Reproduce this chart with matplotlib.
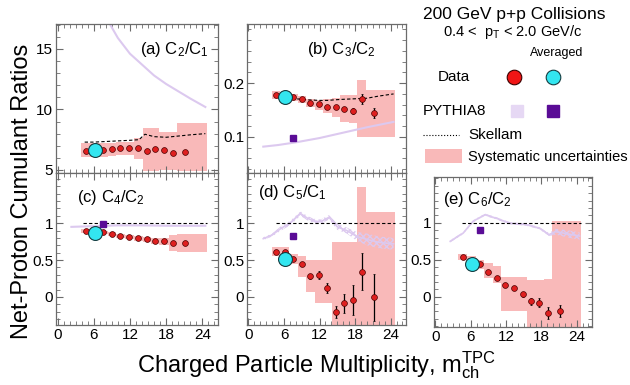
import numpy as np
import matplotlib
matplotlib.use('Agg')
import matplotlib.pyplot as plt
from matplotlib.patches import Rectangle
from matplotlib.ticker import MultipleLocator

plt.rcParams['font.family'] = ['Liberation Sans', 'DejaVu Sans']
plt.rcParams['mathtext.fontset'] = 'custom'
plt.rcParams['mathtext.rm'] = 'Liberation Sans'
plt.rcParams['mathtext.it'] = 'Liberation Sans:italic'

# multiplicity bins (centres / edges of the systematic boxes)
mult = [4.7, 6.1, 7.6, 9.0, 10.4, 11.9, 13.3, 14.8, 16.2, 17.6, 19.1, 21.2]
bin_edges = [3.9, 5.4, 6.9, 8.3, 9.7, 11.2, 12.6, 14.1, 15.5, 16.9, 18.4, 19.8, 24.8]
avg_mult = 6.2
pythia_avg_mult = 7.6

# (a) C2/C1
a_val = [6.6, 6.6, 6.65, 6.7, 6.8, 6.8, 6.8, 6.55, 6.7, 6.65, 6.4, 6.45]
a_err = [0.05] * 12
a_sys_hi = [7.2, 7.2, 7.2, 7.25, 7.3, 7.35, 7.6, 8.5, 8.5, 8.1, 8.1, 8.9]
a_sys_lo = [6.1, 6.1, 6.1, 6.15, 6.2, 6.2, 5.9, 4.9, 4.9, 5.0, 5.0, 4.9]
a_avg = 6.65
a_skel_x = [4.5, 6, 8, 10, 12, 13.5, 14.5, 16, 18, 20, 22, 24.5]
a_skel = [7.3, 7.3, 7.35, 7.4, 7.45, 7.5, 7.95, 7.75, 7.7, 7.8, 7.9, 8.0]
a_py_x = [8.5, 10, 12, 14, 16, 18, 20, 22, 24.5]
a_py = [17.2, 15.9, 14.6, 13.7, 12.8, 12.1, 11.5, 10.9, 10.2]
a_py_avg = 20.0

# (b) C3/C2
b_val = [0.178, 0.176, 0.1735, 0.170, 0.1635, 0.1605, 0.156, 0.155, 0.1525, 0.148, 0.170, 0.144]
b_err = [0.002, 0.002, 0.002, 0.002, 0.002, 0.002, 0.003, 0.003, 0.004, 0.005, 0.009, 0.009]
b_sys_hi = [0.186, 0.184, 0.180, 0.176, 0.170, 0.169, 0.170, 0.172, 0.178, 0.178, 0.206, 0.187]
b_sys_lo = [0.170, 0.167, 0.166, 0.163, 0.156, 0.151, 0.145, 0.137, 0.128, 0.126, 0.100, 0.100]
b_avg = 0.174
b_skel_x = [4.5, 6, 8, 10, 12, 13.5, 14.5, 16, 18, 20, 22, 24.5]
b_skel = [0.176, 0.174, 0.171, 0.169, 0.168, 0.168, 0.169, 0.170, 0.171, 0.172, 0.176, 0.180]
b_py_x = [2.5, 5, 8, 12, 16, 20, 24.5]
b_py = [0.082, 0.085, 0.090, 0.098, 0.108, 0.118, 0.128]
b_py_avg = 0.098

# (c) C4/C2
c_val = [0.896, 0.875, 0.874, 0.847, 0.824, 0.806, 0.793, 0.78, 0.76, 0.757, 0.726, 0.726]
c_err = [0.005] * 12
c_sys_hi = [0.92, 0.90, 0.90, 0.875, 0.85, 0.835, 0.825, 0.815, 0.80, 0.80, 0.84, 0.86]
c_sys_lo = [0.87, 0.85, 0.85, 0.82, 0.80, 0.78, 0.76, 0.745, 0.72, 0.71, 0.62, 0.61]
c_avg = 0.87
c_skel_x = [4.2, 24.8]
c_skel = [1.0, 1.0]
c_py_x = [2.3, 6, 10, 14, 18, 22, 24.5]
c_py = [0.95, 0.96, 0.97, 0.97, 0.965, 0.965, 0.965]
c_py_avg = 0.99

# (d) C5/C1
d_val = [0.612, 0.608, 0.509, 0.442, 0.28, 0.30, 0.118, -0.203, -0.085, -0.04, 0.342, -0.004]
d_err = [0.01, 0.01, 0.015, 0.02, 0.03, 0.05, 0.065, 0.08, 0.13, 0.2, 0.25, 0.32]
d_sys_hi = [0.68, 0.68, 0.58, 0.55, 0.50, 0.50, 0.50, 0.75, 0.75, 0.75, 1.49, 1.15]
d_sys_lo = [0.55, 0.55, 0.45, 0.27, 0.07, -0.08, -0.08, -0.5, -0.5, -0.5, -0.5, -0.5]
d_avg = 0.514
d_skel_x = [4.6, 24.8]
d_skel = [1.0, 1.0]
d_py_x = [2.5, 4, 5.5, 7, 8.8, 9.9, 11, 12.2, 13.6, 15, 16.6, 18.3, 20, 22, 24.5]
d_py = [0.79, 0.84, 0.93, 1.0, 1.13, 1.07, 1.03, 1.02, 1.08, 0.95, 0.90, 0.82, 0.78, 0.74, 0.72]
d_py_w = [0.02, 0.02, 0.03, 0.03, 0.03, 0.03, 0.03, 0.03, 0.03, 0.04, 0.04, 0.06, 0.08, 0.08, 0.08]
d_py_avg = 0.82

# (e) C6/C2
e_val = [0.54, 0.45, 0.436, 0.333, 0.258, 0.154, 0.114, 0.03, -0.064, -0.083, -0.221, -0.19]
e_err = [0.01, 0.01, 0.01, 0.015, 0.015, 0.02, 0.025, 0.035, 0.05, 0.06, 0.08, 0.08]
e_sys_hi = [0.58, 0.55, 0.50, 0.46, 0.42, 0.26, 0.26, 0.26, 0.23, 0.23, 0.24, 1.02]
e_sys_lo = [0.50, 0.42, 0.37, 0.25, 0.18, -0.19, -0.19, -0.19, -0.45, -0.45, -0.45, -0.45]
e_avg = 0.446
e_skel_x = [4.5, 24.8]
e_skel = [1.0, 1.0]
e_py_x = [2.5, 4.7, 6.4, 8.4, 10.4, 12.6, 15.4, 17.6, 19.3, 20.4, 22.5, 24.5]
e_py = [0.75, 0.86, 1.02, 1.11, 1.06, 0.995, 0.975, 0.93, 0.84, 0.88, 0.85, 0.82]
e_py_w = [0.015, 0.015, 0.015, 0.015, 0.015, 0.015, 0.015, 0.015, 0.02, 0.04, 0.05, 0.05]
e_py_avg = 0.90

red = '#de1f1f'
cyan = '#33e6f0'
pink = '#f9b9b9'
py_light = '#dcc9ef'
py_dark = '#5a0c96'
spine = '#6b6b6b'

W, H = 630, 385
fig = plt.figure(figsize=(6.3, 3.85), dpi=100)


def box(l, t, r, b):
    return [l / W, 1 - b / H, (r - l) / W, (b - t) / H]


panels = [
    dict(rect=box(56, 24, 218, 173), val=a_val, err=a_err, hi=a_sys_hi, lo=a_sys_lo, avg=a_avg,
         sx=a_skel_x, sk=a_skel, px=a_py_x, py=a_py, pw=None, pavg=a_py_avg,
         ylim=(4.75, 17.05), major=5, minor=1, ticks=[5, 10, 15], tl=['5', '10', '15'],
         label='(a) C$_2$/C$_1$', lpos=(0.52, 0.83), xlab=False),
    dict(rect=box(247, 24, 406, 173), val=b_val, err=b_err, hi=b_sys_hi, lo=b_sys_lo, avg=b_avg,
         sx=b_skel_x, sk=b_skel, px=b_py_x, py=b_py, pw=None, pavg=b_py_avg,
         ylim=(0.033, 0.31), major=0.1, minor=0.02, ticks=[0.1, 0.2], tl=['0.1', '0.2'],
         label='(b) C$_3$/C$_2$', lpos=(0.38, 0.83), xlab=False),
    dict(rect=box(56, 173, 218, 325), val=c_val, err=c_err, hi=c_sys_hi, lo=c_sys_lo, avg=c_avg,
         sx=c_skel_x, sk=c_skel, px=c_py_x, py=c_py, pw=None, pavg=c_py_avg,
         ylim=(-0.38, 1.68), major=0.5, minor=0.1, ticks=[0, 0.5, 1], tl=['0', '0.5', '1'],
         label='(c) C$_4$/C$_2$', lpos=(0.13, 0.84), xlab=True),
    dict(rect=box(247, 173, 406, 325), val=d_val, err=d_err, hi=d_sys_hi, lo=d_sys_lo, avg=d_avg,
         sx=d_skel_x, sk=d_skel, px=d_py_x, py=d_py, pw=d_py_w, pavg=d_py_avg,
         ylim=(-0.38, 1.68), major=0.5, minor=0.1, ticks=[0, 0.5, 1], tl=['0', '0.5', '1'],
         label='(d) C$_5$/C$_1$', lpos=(0.07, 0.87), xlab=True),
    dict(rect=box(434, 177, 592, 327), val=e_val, err=e_err, hi=e_sys_hi, lo=e_sys_lo, avg=e_avg,
         sx=e_skel_x, sk=e_skel, px=e_py_x, py=e_py, pw=e_py_w, pavg=e_py_avg,
         ylim=(-0.41, 1.62), major=0.5, minor=0.1, ticks=[0, 0.5, 1], tl=['0', '0.5', '1'],
         label='(e) C$_6$/C$_2$', lpos=(0.06, 0.85), xlab=True),
]

for p in panels:
    ax = fig.add_axes(p['rect'])
    hi = np.append(p['hi'], p['hi'][-1])
    lo = np.append(p['lo'], p['lo'][-1])
    ax.fill_between(bin_edges, lo, hi, step='post', color=pink, lw=0, zorder=1)
    if p['pw'] is None:
        ax.plot(p['px'], p['py'], color=py_light, lw=1.5, zorder=2)
    else:
        pyv = np.array(p['py'])
        pww = np.array(p['pw'])
        ax.fill_between(p['px'], pyv - pww, pyv + pww, facecolor='none', edgecolor=py_light,
                        hatch='xxxxx', lw=0, zorder=2)
        ax.plot(p['px'], p['py'], color=py_light, lw=1.2, zorder=2)
    ax.plot(p['sx'], p['sk'], color='black', ls=(0, (3, 2)), lw=0.8, zorder=3)
    ax.plot([pythia_avg_mult], [p['pavg']], 's', color=py_dark, ms=5, zorder=4)
    ax.errorbar(mult, p['val'], yerr=p['err'], fmt='o', color='black', ecolor='black',
                elinewidth=0.9, capsize=1, mfc=red, mec='#4a0000', mew=0.5, ms=4.2, zorder=5)
    ax.plot([avg_mult], [p['avg']], 'o', mfc=cyan, mec='#143c40', mew=0.8, ms=10, zorder=6)

    ax.set_xlim(-0.25, 26.6)
    ax.set_ylim(*p['ylim'])
    ax.xaxis.set_major_locator(MultipleLocator(6))
    ax.xaxis.set_minor_locator(MultipleLocator(1))
    ax.yaxis.set_major_locator(MultipleLocator(p['major']))
    ax.yaxis.set_minor_locator(MultipleLocator(p['minor']))
    ax.set_yticks(p['ticks'])
    ax.set_yticklabels(p['tl'])
    ax.tick_params(which='both', direction='in', top=True, right=True, color=spine,
                   labelsize=11, pad=2)
    ax.tick_params(which='major', length=5, width=0.8)
    ax.tick_params(which='minor', length=3, width=0.6)
    if p['xlab']:
        ax.set_xticks([0, 6, 12, 18, 24])
    else:
        ax.set_xticklabels([])
    for s in ax.spines.values():
        s.set_color(spine)
        s.set_linewidth(0.9)
    ax.text(p['lpos'][0], p['lpos'][1], p['label'], transform=ax.transAxes, fontsize=12,
            ha='left', va='center')

# axis titles
fig.text(22 / W, 0.504, 'Net-Proton Cumulant Ratios', rotation=90, ha='center', va='center',
         fontsize=17)
fig.text(137 / W, 1 - 372 / H, 'Charged Particle Multiplicity, m$^{\\rm TPC}_{\\rm ch}$',
         ha='left', va='baseline', fontsize=17)

# legend block
lg = fig.add_axes(box(410, 0, 630, 170))
lg.set_xlim(410, 630)
lg.set_ylim(170, 0)
lg.axis('off')
lg.text(514, 15, '200 GeV p+p Collisions', ha='center', va='center', fontsize=12.5)
lg.text(513, 32, '0.4 <  p$_{\\rm T}$ < 2.0 GeV/c', ha='center', va='center', fontsize=10.5)
lg.text(557, 53, 'Averaged', ha='center', va='center', fontsize=9)
lg.text(438, 77, 'Data', ha='left', va='center', fontsize=11)
lg.plot([514], [77], 'o', mfc='#f01515', mec='#3a0000', mew=0.8, ms=10.5)
lg.plot([553], [77], 'o', mfc=cyan, mec='#143c40', mew=0.8, ms=10.5)
lg.text(423, 111, 'PYTHIA8', ha='left', va='center', fontsize=11)
lg.plot([517], [111], 's', color='#e6d8f4', ms=9)
lg.plot([553], [111], 's', color=py_dark, ms=8)
lg.plot([423, 459], [135, 135], color='black', ls=':', lw=0.8)
lg.text(468, 135, 'Skellam', ha='left', va='center', fontsize=11)
lg.add_patch(Rectangle((425, 149), 37, 14, color=pink, lw=0))
lg.text(468, 157, 'Systematic uncertainties', ha='left', va='center', fontsize=10.5)

fig.savefig('out.png', dpi=100)
